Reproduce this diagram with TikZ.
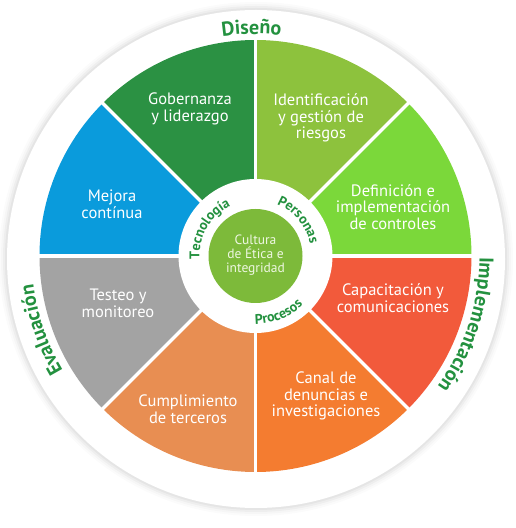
\documentclass[tikz,border=0pt]{standalone}
\usepackage{fontspec}
\setmainfont{PT Sans}
\usetikzlibrary{decorations.text}
\definecolor{cGob}{HTML}{2B9143}
\definecolor{cIde}{HTML}{8DC23D}
\definecolor{cDef}{HTML}{7BD83A}
\definecolor{cCap}{HTML}{F25A3B}
\definecolor{cCan}{HTML}{F47C30}
\definecolor{cCum}{HTML}{E88E52}
\definecolor{cTes}{HTML}{A3A3A3}
\definecolor{cMej}{HTML}{0A9BDC}
\definecolor{cCore}{HTML}{7DBA3A}
\definecolor{lblgreen}{HTML}{23913F}
\definecolor{coretext}{HTML}{EEF7E2}
\tikzset{
  segtext/.style={text=white, align=center, font=\fontsize{16.5}{16.8}\selectfont, inner sep=0pt},
  coretxt/.style={text=coretext, align=center, font=\fontsize{13.5}{14}\selectfont, inner sep=0pt},
  sep/.style={white, line width=3.5pt},
}
\begin{document}
\begin{tikzpicture}[x=1pt,y=1pt]
\useasboundingbox (0,0) rectangle (515,528);
\coordinate (C) at (255.5,272);
\coordinate (S) at (256,269);
% soft shadow of outer disc
\foreach \r/\o in {257/0.015,255/0.02,253/0.03,251/0.04}
  \fill[black,opacity=\o] (S) circle[radius=\r];
\fill[white] (S) circle[radius=249];
% sectors
\foreach \a/\c in {0/cDef,45/cIde,90/cGob,135/cMej,180/cTes,225/cCum,270/cCan,315/cCap}
  \fill[\c] (C) -- ++(\a:216) arc[start angle=\a, end angle=\a+45, radius=216] -- cycle;
\foreach \a in {0,45,...,315}
  \draw[sep] (C) -- ++(\a:218);
\fill[white] (C) circle[radius=77];
\node[circle, fill=cCore, minimum size=94pt, inner sep=0pt] (core) at (C) {};
\node[coretxt] (coretext) at ([yshift=1pt]C) {Cultura\\de Ética e\\integridad};
% segment labels
\node[segtext] (gob) at (190,419) {Gobernanza\\y liderazgo};
\node[segtext] (ide) at (321,410) {Identificación\\y gestión de\\riesgos};
\node[segtext] (def) at (393,321) {Definición e\\implementación\\de controles};
\node[segtext] (cap) at (393,230) {Capacitación y\\comunicaciones};
\node[segtext] (can) at (326,132) {Canal de\\denuncias e\\investigaciones};
\node[segtext] (cum) at (188,119) {Cumplimiento\\de terceros};
\node[segtext] (tes) at (118,225) {Testeo y\\monitoreo};
\node[segtext] (mej) at (112,324) {Mejora\\contínua};
% outer curved labels
\path[decorate, decoration={text along path, text align=center, text color=lblgreen,
  text={|\fontsize{20}{20}\selectfont\bfseries|Diseño}}]
  (C) ++(130:222) arc[start angle=130, end angle=52, radius=222];
\path[decorate, decoration={text along path, text align=center, text color=lblgreen,
  text={|\fontsize{20}{20}\selectfont\bfseries|Implementación}}]
  (C) ++(25:224) arc[start angle=25, end angle=-61, radius=224];
\path[decorate, decoration={text along path, text align=center, text color=lblgreen,
  text={|\fontsize{20}{20}\selectfont\bfseries|Evaluación}}]
  (C) ++(240:224) arc[start angle=240, end angle=158, radius=224];
% inner ring labels
\path[decorate, decoration={text along path, text align=center, text color=lblgreen,
  text={|\fontsize{14}{14}\selectfont\bfseries|Tecnología}}]
  (C) ++(200:56) arc[start angle=200, end angle=100, radius=56];
\path[decorate, decoration={text along path, text align=center, text color=lblgreen,
  text={|\fontsize{14}{14}\selectfont\bfseries|Personas}}]
  (C) ++(90:56) arc[start angle=90, end angle=-10, radius=56];
\path[decorate, decoration={text along path, text align=center, text color=lblgreen,
  text={|\fontsize{14}{14}\selectfont\bfseries|Procesos}}]
  (C) ++(-118:68) arc[start angle=-118, end angle=-18, radius=68];
\end{tikzpicture}
\end{document}
